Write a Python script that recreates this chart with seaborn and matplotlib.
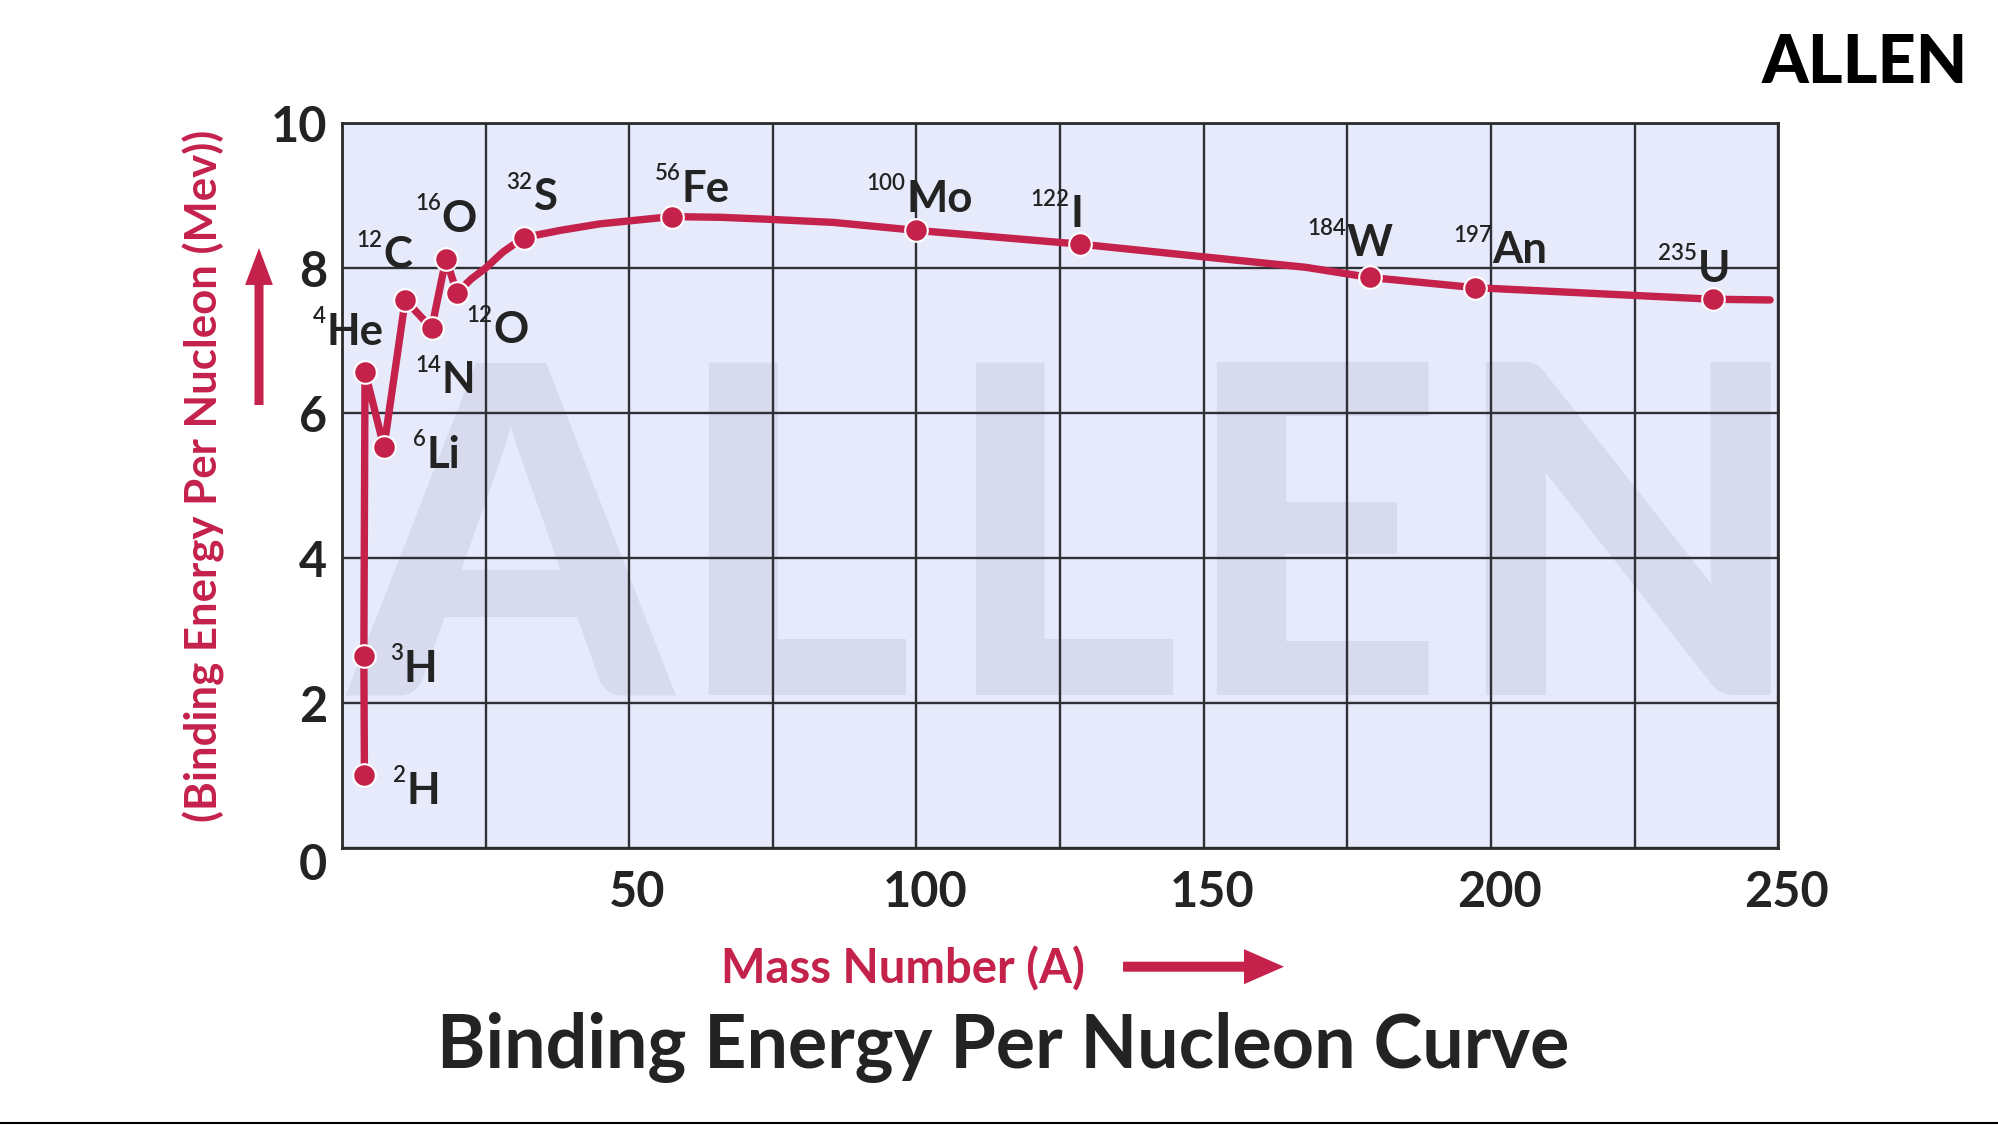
import numpy as np
import pandas as pd
import matplotlib.pyplot as plt
import seaborn as sns
from matplotlib.patches import FancyArrowPatch
from matplotlib.lines import Line2D
from matplotlib import transforms

# isotopes marked on the curve (x as drawn on the chart)
iso_mass = ['2', '3', '4', '6', '12', '14', '16', '12', '32', '56', '100', '122', '184', '197', '235']
iso_symbol = ['H', 'H', 'He', 'Li', 'C', 'N', 'O', 'O', 'S', 'Fe', 'Mo', 'I', 'W', 'An', 'U']
iso_x = [3.9, 3.8, 4.0, 7.3, 11.0, 15.6, 18.1, 20.0, 31.6, 57.4, 100.0, 128.5, 179.0, 197.2, 238.6]
iso_be = [1.01, 2.65, 6.57, 5.53, 7.56, 7.17, 8.13, 7.66, 8.42, 8.71, 8.52, 8.33, 7.87, 7.73, 7.57]

# path of the red curve
curve_x = [3.9, 3.8, 4.0, 7.3, 11.0, 15.6, 18.1, 20.0, 22.5, 25.0, 28.0, 31.6, 38.0, 44.9,
           57.4, 66.0, 75.0, 85.5, 100.0, 128.5, 167.8, 179.0, 197.2, 238.6, 248.6]
curve_be = [1.01, 2.65, 6.57, 5.53, 7.56, 7.17, 8.13, 7.66, 7.85, 8.00, 8.22, 8.42, 8.52, 8.61,
            8.71, 8.70, 8.67, 8.63, 8.52, 8.33, 8.01, 7.87, 7.73, 7.57, 7.56]

x_ticks = list(range(0, 251, 25))
x_ticklabels = ['', '', '50', '', '100', '', '150', '', '200', '', '250']
y_ticks = [0, 2, 4, 6, 8, 10]

# label offsets from each marker (pixels, right / up)
lab_dx = [42.3, 40, -39, 42.7, -22.3, 10, -4.3, 36, 9.3, 9.3, -10, -10, -23.3, 17.7, -14.7]
lab_dy = [-29, -25.7, 26.7, -21, 31.7, -65, 26.7, -50.7, 27.3, 15, 18.3, 16.7, 21, 24.3, 17.3]

RED = '#C4214B'
INK = '#232323'
W, H = 1999, 1125


def fx(px):
    return px / W


def fy(py):
    return 1 - py / H


sns.set_theme(style='white')
plt.rcParams['font.family'] = ['Lato', 'DejaVu Sans']

fig = plt.figure(figsize=(19.99, 11.25), dpi=100)
fig.patch.set_facecolor('white')
ax = fig.add_axes([0.1711, 0.2462, 0.7184, 0.6444])
ax.set_facecolor('#E6EAFB')

# faint watermark
for letter, xc in zip('ALLEN', [0.117, 0.314, 0.500, 0.676, 0.895]):
    ax.text(xc, 0.211, letter, transform=ax.transAxes, ha='center', va='baseline',
            fontsize=330, fontweight='black', color='#D8DBEE', zorder=0.2, clip_on=True)

sns.lineplot(x=curve_x, y=curve_be, sort=False, estimator=None, color=RED,
             linewidth=5.3, ax=ax, zorder=3)
for ln in ax.lines:
    ln.set_solid_capstyle('round')
    ln.set_solid_joinstyle('round')
sns.scatterplot(x=iso_x, y=iso_be, s=265, color=RED, edgecolor='white',
                linewidth=1.5, ax=ax, zorder=4)

for m, sym, x, y, dx, dy in zip(iso_mass, iso_symbol, iso_x, iso_be, lab_dx, lab_dy):
    ox, oy = dx * 0.72, dy * 0.72
    ax.annotate(sym, xy=(x, y), xytext=(ox, oy), textcoords='offset points',
                ha='left', va='baseline', fontsize=31.5, fontweight='bold',
                color=INK, zorder=5)
    ax.annotate(m, xy=(x, y), xytext=(ox - 0.5, oy + 15.6), textcoords='offset points',
                ha='right', va='baseline', fontsize=16, fontweight='semibold',
                color=INK, zorder=5)

ax.set_xlim(0, 250)
ax.set_ylim(0, 10)
ax.set_xticks(x_ticks, x_ticklabels)
ax.set_yticks(y_ticks, [str(v) for v in y_ticks])
ax.set_axisbelow(True)
ax.grid(True, color='#2F2F36', linewidth=1.7)
ax.tick_params(axis='x', length=0, pad=16, labelsize=35, labelcolor=INK)
ax.tick_params(axis='y', length=0, pad=10.5, labelsize=35, labelcolor=INK)
for lab in ax.get_xticklabels() + ax.get_yticklabels():
    lab.set_fontweight('bold')
for lab in ax.get_xticklabels():
    lab.set_transform(lab.get_transform() +
                      transforms.ScaledTranslation(6 / 72, 0, fig.dpi_scale_trans))
y0 = ax.get_yticklabels()[0]
y0.set_transform(y0.get_transform() +
                 transforms.ScaledTranslation(0, -9.4 / 72, fig.dpi_scale_trans))
for sp in ax.spines.values():
    sp.set_visible(True)
    sp.set_color('#2B2B2B')
    sp.set_linewidth(2.0)
ax.set_xlabel('')
ax.set_ylabel('')

# axis titles with arrows
fig.text(fx(903), fy(983.3), 'Mass Number (A)', ha='center', va='baseline',
         fontsize=34, fontweight='bold', color=RED)
fig.add_artist(FancyArrowPatch((fx(1123), fy(966.7)), (fx(1284), fy(966.7)),
                               transform=fig.transFigure, shrinkA=0, shrinkB=0,
                               arrowstyle='simple,head_length=2.88,head_width=2.52,tail_width=0.72',
                               mutation_scale=10, color=RED, lw=0))
fig.text(fx(204), fy(476), '(Binding Energy Per Nucleon (Mev))', rotation=90,
         ha='center', va='center', fontsize=31.5, fontweight='bold', color=RED)
fig.add_artist(FancyArrowPatch((fx(259), fy(405)), (fx(259), fy(248)),
                               transform=fig.transFigure, shrinkA=0, shrinkB=0,
                               arrowstyle='simple,head_length=2.66,head_width=2.0,tail_width=0.65',
                               mutation_scale=10, color=RED, lw=0))

fig.text(fx(1003), fy(1068), 'Binding Energy Per Nucleon Curve', ha='center',
         va='baseline', fontsize=53, fontweight='bold', color=INK)
fig.text(fx(1968), fy(83), 'ALLEN', ha='right', va='baseline', fontsize=48,
         fontweight='black', color='black')
fig.add_artist(Line2D([0, 1], [0.0015, 0.0015], transform=fig.transFigure,
                      color='black', linewidth=1.5))

fig.savefig('out.png', dpi=100)
